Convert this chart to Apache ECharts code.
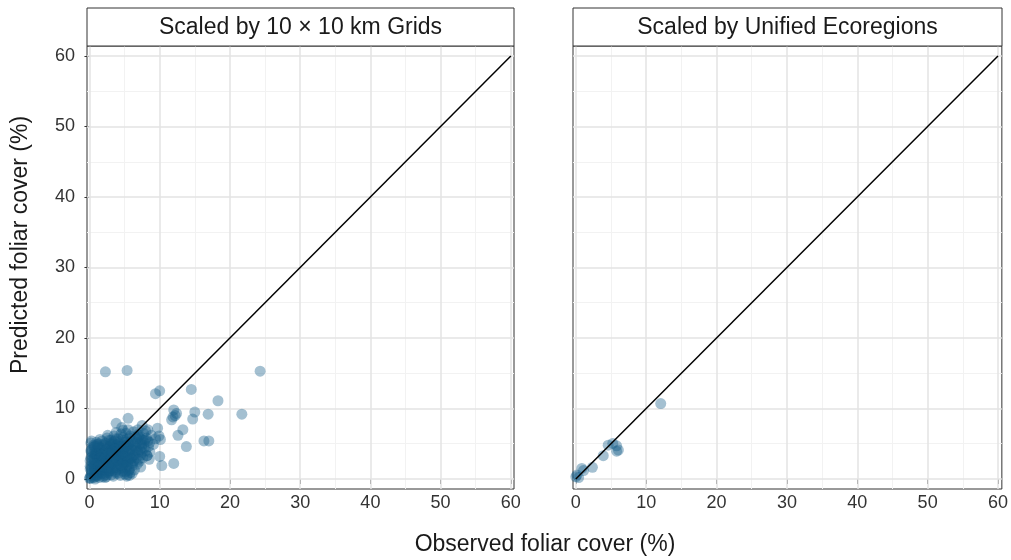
<!DOCTYPE html>
<html>
<head>
<meta charset="utf-8">
<script src="https://cdn.jsdelivr.net/npm/echarts@6/dist/echarts.min.js"></script>
<style>
html,body{margin:0;padding:0;background:#fff;}
#chart{width:1011px;height:560px;}
</style>
</head>
<body>
<div id="chart"></div>
<script>
// ---- data ----
const panelTitles = ["Scaled by 10 \u00d7 10 km Grids", "Scaled by Unified Ecoregions"];
const xTitle = "Observed foliar cover (%)";
const yTitle = "Predicted foliar cover (%)";
const majorTicks = [0, 10, 20, 30, 40, 50, 60];
const minorTicks = [5, 15, 25, 35, 45, 55];
const oneToOne = [[0, 0], [60, 60]];

// Left panel (10 x 10 km grids): observed (x) and predicted (y)
const gridX = [
  0.1,0.2,0.3,0.1,0.4,0.2,0.5,0.3,0.6,0.2,0.8,0.7,0.9,0.6,0.8,0.9,0.5,1.0,0.4,0.7,0.0,0.1,0.3,0.9,0.5,
  1.1,1.3,1.2,1.5,1.4,1.1,1.6,1.3,1.8,1.7,1.9,1.6,1.8,1.9,1.5,1.2,1.4,1.7,1.1,1.9,1.5,1.0,1.3,
  2.1,2.3,2.2,2.5,2.4,2.1,2.6,2.3,2.8,2.7,2.9,2.6,2.8,2.9,2.5,2.2,2.4,2.7,2.1,2.9,2.5,2.0,2.3,2.6,
  3.1,3.3,3.2,3.5,3.4,3.1,3.6,3.3,3.8,3.7,3.9,3.6,3.8,3.9,3.5,3.2,3.4,3.7,3.1,3.9,3.5,3.0,3.3,3.8,3.6,
  4.1,4.3,4.2,4.5,4.4,4.1,4.6,4.3,4.8,4.7,4.9,4.6,4.8,4.9,4.5,4.2,4.4,4.7,4.1,4.9,4.5,4.0,4.3,4.8,4.6,
  5.1,5.3,5.2,5.5,5.4,5.1,5.6,5.3,5.8,5.7,5.9,5.6,5.8,5.9,5.5,5.2,5.4,5.7,5.0,5.9,5.5,5.3,
  6.1,6.3,6.2,6.5,6.4,6.1,6.6,6.3,6.8,6.7,6.9,6.6,6.8,6.0,6.4,6.9,
  7.1,7.3,7.2,7.5,7.4,7.1,7.6,7.8,7.9,7.7,7.3,
  8.2,8.4,8.1,8.6,8.8,8.3,9.1,9.4,9.7,9.9,10.1,6.9,7.5,8.0,7.6,8.5,
  0.2,0.6,1.0,1.4,0.3,0.8,1.2,1.8,2.2,0.5,
  0.2,0.4,0.6,0.8,1.0,1.2,1.4,1.6,1.8,2.0,2.2,2.4,2.6,2.8,3.0,0.3,0.7,1.1,1.5,1.9,2.3,2.7,0.1,0.5,0.9,1.3,1.7,2.1,2.5,2.9,
  3.2,3.4,3.6,3.8,4.0,4.2,4.4,4.6,4.8,5.0,5.2,5.4,5.6,5.8,6.0,3.1,3.5,3.9,4.3,4.7,5.1,5.5,5.9,3.3,3.7,4.1,4.5,4.9,5.3,5.7,
  6.2,6.5,6.8,7.0,7.2,7.5,7.8,8.0,8.3,6.3,6.7,7.0,7.4,8.6,6.1,
  2.27,5.36,24.3,9.4,10.0,14.5,18.3,21.7,16.9,15.0,14.7,11.7,12.0,12.2,11.9,12.4,
  13.3,12.6,16.3,17.0,13.8,10.0,10.3,12.0,5.7,5.5,3.8,8.2
];
const gridY = [
  0.2,0.5,1.1,1.8,2.4,3.0,3.6,4.2,4.8,5.1,0.3,1.4,2.1,2.9,3.4,4.0,4.5,5.2,0.9,0.6,0.1,2.6,3.8,1.0,1.7,
  0.4,1.2,1.9,2.6,3.2,3.9,4.5,5.0,5.4,0.8,1.6,2.2,3.0,3.7,4.1,4.7,0.2,1.1,2.9,4.9,5.6,3.3,2.4,
  0.5,1.3,2.0,2.7,3.4,4.0,4.6,5.1,5.5,0.9,1.8,2.3,3.1,3.9,4.3,4.8,0.3,1.5,2.9,4.7,5.8,3.6,2.5,6.2,
  0.6,1.2,2.1,2.8,3.5,4.1,4.6,5.2,5.7,1.0,1.9,2.4,3.2,4.0,4.4,4.9,0.4,1.6,3.0,4.8,6.1,3.7,2.6,6.6,5.4,
  0.8,1.5,2.2,2.9,3.6,4.3,4.9,5.3,5.9,1.1,2.0,2.6,3.3,4.1,4.6,5.0,0.5,1.8,3.1,5.5,6.4,3.9,2.7,6.9,7.3,
  1.0,1.7,2.4,3.0,3.7,4.4,5.0,5.6,6.1,1.4,2.2,2.8,3.5,4.3,4.8,6.5,0.6,4.0,3.2,5.3,7.0,0.4,
  1.9,2.6,3.3,4.0,4.7,5.4,6.0,6.7,2.1,3.0,3.8,4.5,5.2,2.9,1.3,6.3,
  2.5,3.4,4.1,4.9,5.6,6.2,3.0,4.4,5.5,6.5,1.7,
  3.3,4.6,5.8,5.2,6.2,7.0,4.9,5.7,7.2,6.1,5.6,7.0,7.6,6.8,5.5,2.8,
  0.1,0.2,0.6,1.0,1.5,0.0,0.9,1.3,0.2,2.0,
  4.0,3.2,2.2,1.2,0.5,3.6,4.4,1.4,2.6,0.8,3.0,4.2,1.0,2.0,5.0,5.4,4.6,4.9,3.0,0.3,1.7,3.6,1.4,2.8,3.6,1.8,3.4,2.2,0.6,1.2,
  1.5,2.3,3.1,0.8,1.3,3.4,4.0,1.6,2.4,0.7,3.9,2.0,1.2,0.9,4.2,5.5,5.0,2.7,4.6,3.7,5.2,2.5,3.0,3.9,4.3,5.7,2.0,4.4,4.7,5.8,
  2.3,3.5,4.1,2.8,5.0,3.8,5.1,4.0,5.4,5.0,5.7,6.0,4.5,3.8,0.8,
  15.2,15.4,15.3,12.1,12.5,12.7,11.1,9.2,9.2,9.5,8.5,8.4,9.8,9.0,8.8,9.3,
  7.0,6.2,5.4,5.4,4.6,3.2,1.9,2.2,0.5,8.6,7.9,3.3
];

// Right panel (unified ecoregions)
const ecoX = [0.0, 0.15, 0.4, 0.85, 1.1, 2.36, 3.9, 4.6, 5.25, 5.8, 6.05, 5.8, 12.07];
const ecoY = [0.3, 0.55, 0.2, 1.5, 1.2, 1.66, 3.3, 4.8, 5.05, 4.7, 4.1, 3.95, 10.7];

// ---- build ----
const FONT = "'Liberation Sans', Arial, sans-serif";
const pointColor = 'rgba(19,91,135,0.48)';
const zip = (xs, ys) => xs.map((v, i) => [v, ys[i]]);

const grids = [
  {left: 87, top: 46, width: 427, height: 443},
  {left: 573, top: 46, width: 429, height: 443}
];
const xRanges = [[-0.35, 60.45], [-0.4, 60.55]];
const yRange = [-1.42, 61.42];

function gridMarkLines() {
  const d = [];
  minorTicks.forEach(v => {
    d.push({xAxis: v, lineStyle: {color: '#f2f2f2', width: 1, type: 'solid'}});
    d.push({yAxis: v, lineStyle: {color: '#f2f2f2', width: 1, type: 'solid'}});
  });
  majorTicks.forEach(v => {
    d.push({xAxis: v, lineStyle: {color: '#e3e3e3', width: 1.5, type: 'solid'}});
    d.push({yAxis: v, lineStyle: {color: '#e3e3e3', width: 1.5, type: 'solid'}});
  });
  return d;
}

const option = {
  animation: false,
  backgroundColor: '#fff',
  grid: grids.map(g => Object.assign({show: true, borderColor: '#333', borderWidth: 1, backgroundColor: '#fff'}, g)),
  xAxis: [0, 1].map(i => ({
    type: 'value', gridIndex: i, min: xRanges[i][0], max: xRanges[i][1],
    axisLine: {show: false},
    splitLine: {show: false},
    axisTick: {show: true, length: 5, customValues: majorTicks, lineStyle: {color: '#333', width: 1}},
    axisLabel: {customValues: majorTicks, margin: 5, fontSize: 18, color: '#333', fontFamily: FONT}
  })),
  yAxis: [0, 1].map(i => ({
    type: 'value', gridIndex: i, min: yRange[0], max: yRange[1],
    axisLine: {show: false},
    splitLine: {show: false},
    axisTick: {show: i === 0, length: 5, customValues: majorTicks, lineStyle: {color: '#333', width: 1}},
    axisLabel: {show: i === 0, customValues: majorTicks, margin: 12, fontSize: 18, color: '#333', fontFamily: FONT}
  })),
  series: [],
  graphic: []
};

[0, 1].forEach(i => {
  option.series.push({
    type: 'line', xAxisIndex: i, yAxisIndex: i, data: [], z: 1, silent: true,
    markLine: {silent: true, z: 1, symbol: ['none', 'none'], label: {show: false}, animation: false,
      lineStyle: {type: 'solid'}, emphasis: {disabled: true}, data: gridMarkLines()}
  });
  option.series.push({
    type: 'scatter', xAxisIndex: i, yAxisIndex: i, z: 3,
    data: i === 0 ? zip(gridX, gridY) : zip(ecoX, ecoY),
    symbolSize: 11,
    itemStyle: {color: pointColor}
  });
  option.series.push({
    type: 'line', xAxisIndex: i, yAxisIndex: i, z: 4,
    data: oneToOne, showSymbol: false, symbol: 'none',
    lineStyle: {color: '#000', width: 1.5}
  });
  const g = grids[i];
  option.graphic.push({
    type: 'rect', shape: {x: g.left, y: 8, width: g.width, height: 38},
    style: {fill: '#fff', stroke: '#333', lineWidth: 1}, z: 10
  });
  option.graphic.push({
    type: 'text', x: g.left + g.width / 2, y: 28,
    style: {text: panelTitles[i], font: '23px ' + FONT, fill: '#1a1a1a', textAlign: 'center', textVerticalAlign: 'middle'},
    z: 11
  });
});

option.graphic.push({
  type: 'text', x: 545, y: 545,
  style: {text: xTitle, font: '23px ' + FONT, fill: '#1a1a1a', textAlign: 'center', textVerticalAlign: 'middle'}
});
option.graphic.push({
  type: 'text', x: 21, y: 245, rotation: Math.PI / 2,
  style: {text: yTitle, font: '23px ' + FONT, fill: '#1a1a1a', textAlign: 'center', textVerticalAlign: 'middle'}
});

const chart = echarts.init(document.getElementById('chart'), null, {renderer: 'canvas'});
chart.setOption(option);
</script>
</body>
</html>
